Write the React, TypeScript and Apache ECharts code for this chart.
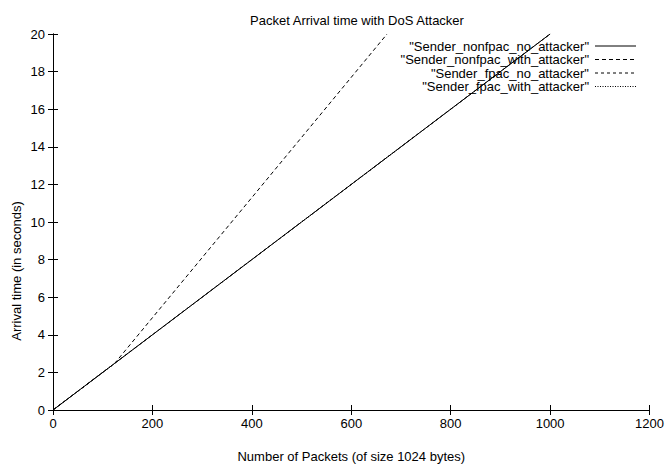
import React, { useEffect, useRef } from "react";
import * as echarts from "echarts";

const seriesNames = [
  '"Sender_nonfpac_no_attacker"',
  '"Sender_nonfpac_with_attacker"',
  '"Sender_fpac_no_attacker"',
  '"Sender_fpac_with_attacker"',
];
const nonfpacNoAttacker: number[][] = [[0, 0], [124, 2.48], [500, 10], [1000, 20]];
const nonfpacWithAttacker: number[][] = [[0, 0], [124, 2.48], [400, 11.3], [672, 20]];
const fpacNoAttacker: number[][] = [[0, 0], [124, 2.48], [500, 10], [1000, 20]];
const fpacWithAttacker: number[][] = [[0, 0], [124, 2.48], [500, 10], [1000, 20]];
const dashes: (number[] | null)[] = [null, [4, 3], [3, 3], [1, 1.5]];

const FONT = "Liberation Sans, Arial, sans-serif";
const FS = 13;

export default function App() {
  const ref = useRef<HTMLDivElement>(null);
  useEffect(() => {
    const chart = echarts.init(ref.current!, null, { renderer: "svg" });
    const datasets = [nonfpacNoAttacker, nonfpacWithAttacker, fpacNoAttacker, fpacWithAttacker];
    const axisCommon = {
      axisLine: { show: true, lineStyle: { color: "#000", width: 1 } },
      axisTick: { show: true, inside: true, length: 5, lineStyle: { color: "#000" } },
      splitLine: { show: false },
    };
    const legendGraphics: any[] = [];
    seriesNames.forEach((n, i) => {
      const y = 46 + i * 13.5;
      legendGraphics.push({
        type: "text",
        x: 589,
        y,
        style: { text: n, fill: "#000", font: `${FS}px ${FONT}`, textAlign: "right", textVerticalAlign: "middle" },
      });
      legendGraphics.push({
        type: "line",
        shape: { x1: 595, y1: y, x2: 636, y2: y },
        style: { stroke: "#000", lineWidth: 1, lineDash: dashes[i] || undefined },
      });
    });
    legendGraphics.push({
      type: "text",
      x: 16,
      y: 271,
      rotation: Math.PI / 2,
      style: {
        text: "Arrival time (in seconds)",
        fill: "#000",
        font: `${FS}px ${FONT}`,
        textAlign: "center",
        textVerticalAlign: "middle",
      },
    });
    chart.setOption({
      animation: false,
      backgroundColor: "#fff",
      title: {
        text: "Packet Arrival time with DoS Attacker",
        left: 352,
        textAlign: "center",
        top: 9,
        textStyle: { fontFamily: FONT, fontSize: FS, fontWeight: "normal", color: "#000" },
      },
      grid: { left: 53, right: 16, top: 34, bottom: 54 },
      xAxis: [
        {
          type: "value",
          min: 0,
          max: 1200,
          interval: 200,
          ...axisCommon,
          axisLabel: { fontFamily: FONT, fontSize: FS, color: "#000", margin: 7, formatter: (v: number) => String(v) },
          name: "Number of Packets (of size 1024 bytes)",
          nameLocation: "middle",
          nameGap: 40,
          nameTextStyle: { fontFamily: FONT, fontSize: FS, color: "#000" },
        },
        {
          type: "value",
          position: "top",
          min: 0,
          max: 1200,
          interval: 200,
          ...axisCommon,
          axisLabel: { show: false },
        },
      ],
      yAxis: [
        {
          type: "value",
          min: 0,
          max: 20,
          interval: 2,
          ...axisCommon,
          axisLabel: { fontFamily: FONT, fontSize: FS, color: "#000", margin: 8, formatter: (v: number) => String(v) },
        },
        {
          type: "value",
          position: "right",
          min: 0,
          max: 20,
          interval: 2,
          ...axisCommon,
          axisLabel: { show: false },
        },
      ],
      series: datasets.map((d, i) => ({
        name: seriesNames[i],
        type: "line",
        data: d,
        showSymbol: false,
        symbol: "none",
        z: 10 - i,
        lineStyle: { color: "#000", width: 1, type: dashes[i] || "solid" },
      })),
      graphic: legendGraphics,
    });
    return () => chart.dispose();
  }, []);
  return <div ref={ref} style={{ width: 667, height: 468, position: "absolute", left: 0, top: 0 }} />;
}
